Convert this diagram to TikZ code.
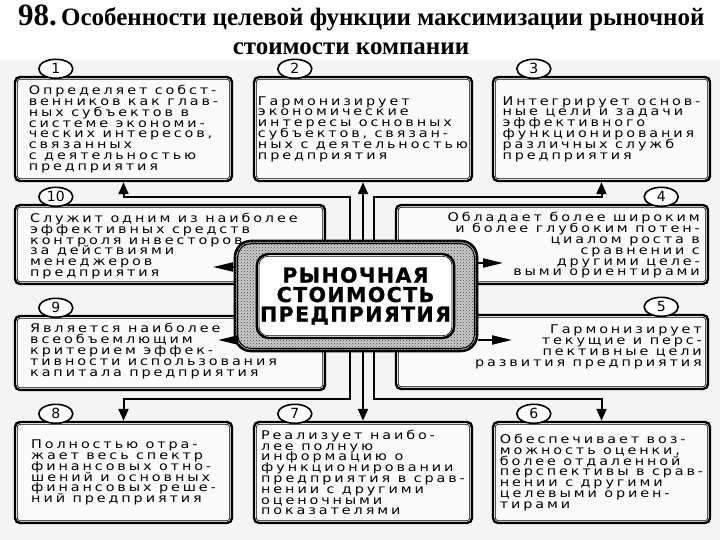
\documentclass[tikz,border=0pt]{standalone}
\usepackage{fontspec}
\setmainfont{Liberation Serif}
\newfontfamily\boxfont[FakeStretch=1.2,LetterSpace=24]{DejaVu Sans}
\newfontfamily\numfont{DejaVu Sans}
\newfontfamily\corefont[LetterSpace=7,FakeBold=1.2]{DejaVu Sans}
\usetikzlibrary{arrows.meta}
\usetikzlibrary{patterns}
\usetikzlibrary{shapes.geometric}

\tikzset{
  box/.style={draw, line width=2.4pt, rounded corners=5pt, fill=gray!3},
  badge/.style={ellipse, draw, line width=1.6pt, fill=white, minimum width=34pt,
    minimum height=19pt, inner sep=0pt, font=\numfont\fontsize{14}{14}\selectfont},
  txt/.style={inner sep=0pt, font=\boxfont\fontsize{12}{10.8}\selectfont},
  link/.style={line width=2pt, -{Triangle[length=12pt,width=10pt]}},
  sidelink/.style={line width=2pt, -{Triangle[length=20pt,width=9pt]}},
}

\begin{document}
\lineskiplimit=-20pt
\begin{tikzpicture}[x=1pt,y=-1pt]
\useasboundingbox (0,0) rectangle (720,540);

% paper
\fill[gray!9] (0,60) rectangle (720,540);

% title
\node[anchor=base west, inner sep=0pt, font=\bfseries] (title) at (18,26)
  {{\fontsize{31}{31}\selectfont 98.}\fontsize{25}{25}\selectfont\,Особенности целевой функции максимизации рыночной};
\node[anchor=base, inner sep=0pt, font=\bfseries\fontsize{25}{25}\selectfont] (title2) at (351,55) {стоимости компании};

% boxes
\node[box, minimum width=217pt, minimum height=104pt] (b1) at (123.5,129) {};
\node[box, minimum width=218pt, minimum height=104pt] (b2) at (363,129) {};
\node[box, minimum width=217pt, minimum height=104pt] (b3) at (601.5,129) {};
\node[box, minimum width=310pt, minimum height=79pt] (b10) at (170,244.5) {};
\node[box, minimum width=312pt, minimum height=79pt] (b4) at (552,244.5) {};
\node[box, minimum width=310pt, minimum height=74pt] (b9) at (170,353) {};
\node[box, minimum width=312pt, minimum height=74pt] (b5) at (552,352) {};
\node[box, minimum width=217pt, minimum height=101pt] (b8) at (123.5,472.5) {};
\node[box, minimum width=218pt, minimum height=101pt] (b7) at (363,472.5) {};
\node[box, minimum width=217pt, minimum height=101pt] (b6) at (601.5,472.5) {};

\foreach \i in {1,...,10}
  \draw[line width=0.6pt, rounded corners=3pt] ([shift={(3.5,3.5)}]b\i.north west) rectangle ([shift={(-3.5,-3.5)}]b\i.south east);

% numbers
\foreach \i in {1,2,3,10,9,8,7,6}
  \node[badge] (n\i) at ([shift={(42,-7)}]b\i.north west) {\i};
\foreach \i in {4,5}
  \node[badge] (n\i) at ([shift={(-48,-7)}]b\i.north east) {\i};

% texts
\node[txt, align=left] (t1) at (b1.center) {Определяет собст-\\венников как глав-\\ных субъектов в\\системе экономи-\\ческих интересов,\\связанных\\с деятельностью\\предприятия};
\node[txt, align=left] (t2) at (b2.center) {Гармонизирует\\экономические\\интересы основных\\субъектов, связан-\\ных с деятельностью\\предприятия};
\node[txt, align=left] (t3) at (b3.center) {Интегрирует основ-\\ные цели и задачи\\эффективного\\функционирования\\различных служб\\предприятия};
\node[txt, align=left, anchor=west] (t10) at (30,246) {Служит одним из наиболее\\эффективных средств\\контроля инвесторов\\за действиями\\менеджеров\\предприятия};
\node[txt, align=right, anchor=east] (t4) at (700,245.5) {Обладает более широким\\и более глубоким потен-\\циалом роста в\\сравнении с\\другими целе-\\выми ориентирами};
\node[txt, align=left, anchor=west] (t9) at (30,351) {Является наиболее\\всеобъемлющим\\критерием эффек-\\тивности использования\\капитала предприятия};
\node[txt, align=right, anchor=east] (t5) at (702,347) {Гармонизирует\\текущие и перс-\\пективные цели\\развития предприятия};
\node[txt, align=left] (t8) at (b8.center) {Полностью отра-\\жает весь спектр\\финансовых отно-\\шений и основных\\финансовых реше-\\ний предприятия};
\node[txt, align=left] (t7) at (b7.center) {Реализует наибо-\\лее полную\\информацию о\\функционировании\\предприятия в срав-\\нении с другими\\оценочными\\показателями};
\node[txt, align=left] (t6) at (b6.center) {Обеспечивает воз-\\можность оценки,\\более отдаленной\\перспективы в срав-\\нении с другими\\целевыми ориен-\\тирами};

% central block
\node[draw, line width=2.6pt, rounded corners=16pt, minimum width=242pt, minimum height=110pt,
  fill=gray!40, postaction={pattern=crosshatch dots, pattern color=black!75}] (rsbox) at (356,296) {};
\draw[line width=1pt, rounded corners=13pt] ([shift={(4,4)}]rsbox.north west) rectangle ([shift={(-4,-4)}]rsbox.south east);
\node[draw, line width=2.4pt, rounded corners=12pt, fill=white, minimum width=195pt, minimum height=84pt,
  align=center, font=\corefont\bfseries\fontsize{20.5}{19.5}\selectfont] (rs) at (355.5,296) {РЫНОЧНАЯ\\СТОИМОСТЬ\\ПРЕДПРИЯТИЯ};
\draw[line width=0.6pt, rounded corners=9pt] ([shift={(3.5,3.5)}]rs.north west) rectangle ([shift={(-3.5,-3.5)}]rs.south east);

% connectors
\coordinate (j1) at (350,197);
\coordinate (j3) at (374,197);
\coordinate (j8) at (350,399);
\coordinate (j6) at (374,399);
\draw[link] (j1 |- rsbox.north) -- (j1) -| (b1.south);
\draw[link] (rsbox.north -| b2.south) -- (b2.south);
\draw[link] (j3 |- rsbox.north) -- (j3) -| (b3.south);
\draw[link] (j8 |- rsbox.south) -- (j8) -| (b8.north);
\draw[link] (rsbox.south -| b7.north) -- (b7.north);
\draw[link] (j6 |- rsbox.south) -- (j6) -| (b6.north);

\coordinate (j10) at (213,267);
\coordinate (j9) at (218,340);
\coordinate (j4) at (503,263);
\coordinate (j5) at (512,340);
\draw[sidelink] (rsbox.west |- j10) -- (j10);
\draw[sidelink] (rsbox.west |- j9) -- (j9);
\draw[sidelink] (rsbox.east |- j4) -- (j4);
\draw[sidelink] (rsbox.east |- j5) -- (j5);

\end{tikzpicture}
\end{document}
